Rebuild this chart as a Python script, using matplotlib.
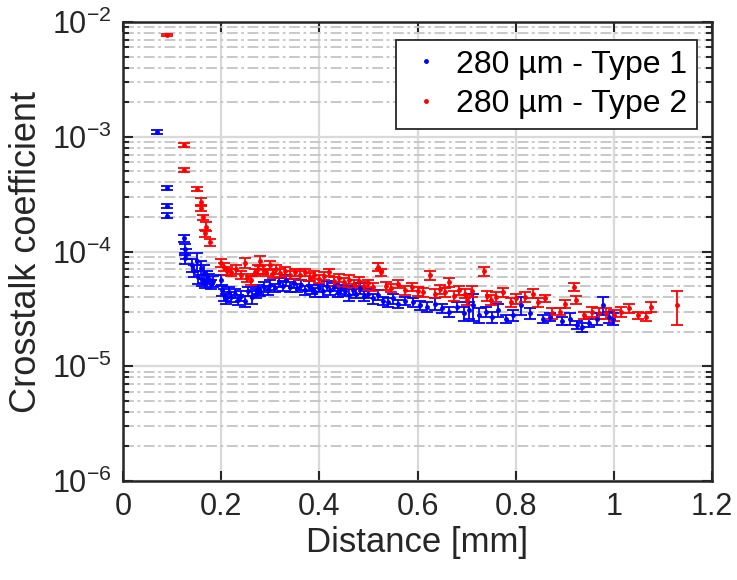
import numpy as np
import matplotlib
matplotlib.use('Agg')
import matplotlib.pyplot as plt
from matplotlib.lines import Line2D
from matplotlib.ticker import LogLocator, NullFormatter, FixedLocator

FONT = ['Liberation Sans', 'DejaVu Sans']
plt.rcParams.update({'font.family': FONT, 'mathtext.fontset': 'custom',
                     'mathtext.rm': 'Liberation Sans',
                     'mathtext.it': 'Liberation Sans'})

# 280 um - Type 1 (valores en unidades de 1e-5)
x_t1 = [0.070, 0.090, 0.090, 0.090, 0.125, 0.126, 0.128, 0.127, 0.140, 0.145,
        0.150, 0.152, 0.158, 0.160, 0.165, 0.168, 0.172, 0.175, 0.180, 0.183,
        0.200, 0.202, 0.205, 0.210, 0.215, 0.220, 0.228, 0.235, 0.240, 0.248,
        0.255, 0.262, 0.270, 0.275, 0.280, 0.288, 0.295, 0.300, 0.310, 0.318,
        0.325, 0.332, 0.340, 0.348, 0.355, 0.362, 0.370, 0.378, 0.385, 0.392,
        0.400, 0.408, 0.415, 0.422, 0.430, 0.438, 0.445, 0.452, 0.460, 0.468,
        0.475, 0.482, 0.490, 0.500, 0.510, 0.520, 0.530, 0.540, 0.550, 0.560,
        0.575, 0.590, 0.605, 0.620, 0.635, 0.650, 0.665, 0.680, 0.695, 0.705,
        0.713, 0.725, 0.740, 0.752, 0.765, 0.780, 0.795, 0.810, 0.830, 0.855,
        0.870, 0.895, 0.910, 0.925, 0.935, 0.950, 0.965, 0.978, 0.990, 0.998]
y_t1 = [110, 36, 25, 20.5, 13, 10.5, 9.6, 8.8, 7.6, 6.8,
        8.2, 6.0, 7.2, 5.6, 6.5, 5.3, 6.1, 5.8, 5.2, 5.5,
        5.6, 4.6, 4.2, 3.9, 4.4, 4.0, 4.3, 3.8, 4.1, 3.7,
        4.5, 4.0, 4.3, 4.7, 4.5, 4.9, 4.6, 5.1, 4.8, 5.4,
        5.0, 5.6, 4.9, 5.3, 4.8, 5.1, 4.6, 5.0, 4.7, 4.4,
        4.8, 4.5, 5.0, 4.6, 4.9, 4.4, 4.7, 4.5, 4.2, 4.6,
        4.3, 4.8, 4.1, 4.3, 3.9, 4.2, 3.7, 3.6, 3.9, 3.5,
        3.7, 3.6, 3.4, 3.3, 3.5, 3.2, 3.0, 3.3, 2.9, 3.1,
        3.4, 2.8, 3.0, 2.7, 3.1, 2.6, 2.8, 3.4, 2.9, 2.6,
        2.7, 2.5, 2.6, 2.3, 2.2, 2.4, 2.6, 3.4, 2.7, 2.6]
e_t1 = [5, 1.5, 1.2, 1.0, 1.0, 1.2, 1.0, 1.0, 1.0, 0.8,
        1.5, 0.8, 1.0, 0.6, 1.2, 0.5, 0.7, 0.6, 0.5, 0.6,
        0.6, 0.5, 0.5, 0.4, 0.5, 0.4, 0.4, 0.4, 0.4, 0.4,
        0.4, 0.5, 0.4, 0.4, 0.4, 0.5, 0.4, 0.5, 0.4, 0.5,
        0.5, 0.6, 0.5, 0.5, 0.4, 0.5, 0.4, 0.5, 0.4, 0.4,
        0.4, 0.5, 0.5, 0.4, 0.4, 0.4, 0.4, 0.4, 0.5, 0.4,
        0.4, 0.5, 0.4, 0.4, 0.4, 0.4, 0.3, 0.3, 0.4, 0.3,
        0.3, 0.3, 0.3, 0.3, 0.4, 0.3, 0.3, 0.3, 0.4, 0.5,
        0.9, 0.4, 0.3, 0.3, 0.4, 0.2, 0.3, 0.6, 0.3, 0.2,
        0.2, 0.2, 0.3, 0.2, 0.2, 0.2, 0.3, 0.6, 0.3, 0.3]

# 280 um - Type 2
x_t2 = [0.090, 0.125, 0.125, 0.150, 0.158, 0.158, 0.163, 0.170, 0.168, 0.178,
        0.200, 0.205, 0.212, 0.220, 0.230, 0.240, 0.248, 0.252, 0.260, 0.268,
        0.275, 0.280, 0.285, 0.292, 0.300, 0.305, 0.312, 0.320, 0.330, 0.340,
        0.350, 0.360, 0.370, 0.380, 0.390, 0.400, 0.410, 0.420, 0.430, 0.440,
        0.450, 0.460, 0.470, 0.480, 0.490, 0.500, 0.510, 0.520, 0.525, 0.535,
        0.545, 0.560, 0.575, 0.588, 0.600, 0.612, 0.625, 0.635, 0.645, 0.655,
        0.665, 0.675, 0.685, 0.697, 0.700, 0.712, 0.735, 0.742, 0.750, 0.760,
        0.775, 0.790, 0.800, 0.820, 0.835, 0.845, 0.860, 0.875, 0.890, 0.900,
        0.918, 0.922, 0.940, 0.955, 0.970, 0.985, 1.000, 1.015, 1.030, 1.050,
        1.065, 1.075, 1.129]
y_t2 = [770, 85, 51, 35, 27, 24, 20, 16.5, 14.5, 12,
        8.0, 7.3, 6.8, 6.6, 7.0, 6.3, 8.0, 5.9, 5.6, 6.6,
        7.0, 8.3, 7.0, 6.6, 7.6, 6.5, 7.0, 6.5, 6.7, 6.3,
        6.6, 6.2, 6.6, 6.0, 6.3, 5.8, 6.1, 6.6, 5.5, 5.9,
        5.4, 5.7, 5.2, 5.5, 5.0, 5.3, 4.9, 7.4, 6.6, 5.0,
        4.8, 5.2, 4.6, 4.9, 4.5, 4.4, 6.2, 4.3, 4.7, 4.4,
        5.4, 4.1, 4.6, 4.3, 3.8, 4.5, 6.7, 4.1, 3.8, 4.0,
        4.4, 3.6, 3.9, 4.0, 4.3, 3.6, 3.9, 2.9, 3.0, 3.5,
        4.9, 3.8, 2.8, 3.0, 2.9, 2.9, 2.8, 3.0, 3.2, 2.8,
        2.7, 3.3, 3.4]
e_t2 = [20, 3, 2, 1.5, 2, 1.5, 1, 1.5, 1, 0.8,
        0.6, 0.6, 0.5, 0.5, 0.6, 0.5, 0.8, 0.5, 0.5, 0.5,
        0.6, 0.8, 0.6, 0.5, 0.7, 0.6, 0.6, 0.5, 0.6, 0.5,
        0.5, 0.5, 0.5, 0.5, 0.5, 0.5, 0.5, 0.5, 0.5, 0.5,
        0.5, 0.5, 0.4, 0.5, 0.4, 0.4, 0.4, 0.6, 0.5, 0.4,
        0.4, 0.4, 0.4, 0.4, 0.4, 0.4, 0.5, 0.4, 0.4, 0.4,
        0.5, 0.4, 0.4, 0.4, 0.4, 0.5, 0.6, 0.4, 0.4, 0.4,
        0.4, 0.3, 0.4, 0.4, 0.4, 0.3, 0.3, 0.3, 0.2, 0.3,
        0.4, 0.3, 0.2, 0.3, 0.3, 0.3, 0.3, 0.3, 0.3, 0.2,
        0.2, 0.3, 1.1]

fig = plt.figure(figsize=(7.37, 5.80), dpi=100)
ax = fig.add_axes([0.1669, 0.1707, 0.7992, 0.7913])

handles = []
for xs, ys, es, col, lab in [(x_t1, y_t1, e_t1, 'blue', '280 µm - Type 1'),
                             (x_t2, y_t2, e_t2, 'red', '280 µm - Type 2')]:
    ys = np.array(ys) * 1e-5
    es = np.array(es) * 1e-5
    ax.errorbar(xs, ys, yerr=es, fmt='.', color=col, ms=5, elinewidth=1.3,
                capsize=4, capthick=1.3, zorder=3)
    handles.append(Line2D([], [], ls='none', marker='.', color=col, ms=5, label=lab))

ax.set_yscale('log')
ax.set_xlim(0, 1.2)
ax.set_ylim(1e-6, 1e-2)
ax.set_xticks([0, 0.2, 0.4, 0.6, 0.8, 1, 1.2])
ax.set_xticklabels(['0', '0.2', '0.4', '0.6', '0.8', '1', '1.2'])
ax.yaxis.set_major_locator(FixedLocator([1e-6, 1e-5, 1e-4, 1e-3, 1e-2]))
ax.yaxis.set_minor_locator(LogLocator(base=10, subs=np.arange(2, 10), numticks=20))
ax.yaxis.set_minor_formatter(NullFormatter())

ax.grid(which='major', color='#d9d9d9', lw=1.6, ls='-', zorder=0)
ax.grid(which='minor', axis='y', color='#c4c4c4', lw=1.3, ls=(0, (6, 2, 1.5, 2)), zorder=0)
ax.set_axisbelow(True)

ax.tick_params(which='both', direction='in', top=True, right=True, colors='#262626',
               labelsize=22, width=1.5, pad=8)
ax.tick_params(which='major', length=7)
ax.tick_params(which='minor', length=4)
for sp in ax.spines.values():
    sp.set_linewidth(1.8); sp.set_color('#262626')

ax.set_xlabel('Distance [mm]', fontsize=25, color='#262626', labelpad=3)
ax.set_ylabel('Crosstalk coefficient', fontsize=26, color='#262626', labelpad=6)

leg = ax.legend(handles=handles, loc='upper right', fontsize=23, fancybox=False,
                framealpha=1, edgecolor='#262626', handlelength=1.28,
                handletextpad=0.3, borderpad=0.3, labelspacing=0.3,
                borderaxespad=0, bbox_to_anchor=(0.9745, 0.961))
leg.get_frame().set_linewidth(1.3)

fig.savefig('out.png', dpi=100)
